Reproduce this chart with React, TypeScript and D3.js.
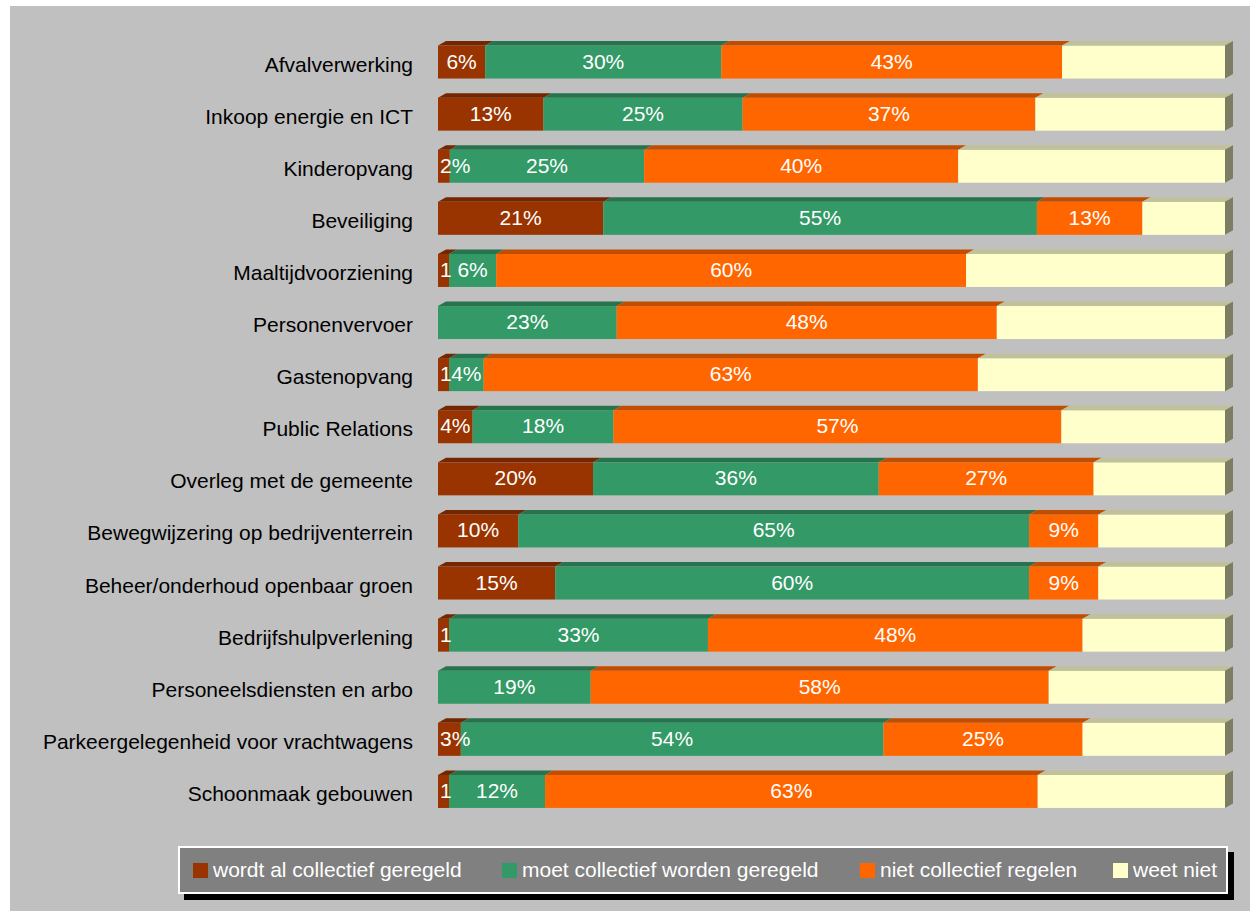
import React from 'react';
import * as d3 from 'd3';

const categories = [
  'Afvalverwerking',
  'Inkoop energie en ICT',
  'Kinderopvang',
  'Beveiliging',
  'Maaltijdvoorziening',
  'Personenvervoer',
  'Gastenopvang',
  'Public Relations',
  'Overleg met de gemeente',
  'Bewegwijzering op bedrijventerrein',
  'Beheer/onderhoud openbaar groen',
  'Bedrijfshulpverlening',
  'Personeelsdiensten en arbo',
  'Parkeergelegenheid voor vrachtwagens',
  'Schoonmaak gebouwen',
];

// percentages per series
const wordtAl = [6, 13.4, 1.5, 21, 1.4, 0, 1.4, 4.4, 19.7, 10.2, 14.9, 1.4, 0, 2.9, 1.4];
const moet = [30, 25.3, 24.7, 55.1, 6, 22.7, 4.4, 17.9, 36.3, 64.9, 60.2, 32.9, 19.4, 53.7, 12.2];
const niet = [43.3, 37.2, 39.9, 13.4, 59.7, 48.3, 62.8, 56.9, 27.3, 8.8, 8.8, 47.6, 58.2, 25.3, 62.6];
const weet = [20.7, 24.1, 33.9, 10.5, 32.9, 29.0, 31.4, 20.8, 16.7, 16.1, 16.1, 18.1, 22.4, 18.1, 23.8];

const seriesNames = [
  'wordt al collectief geregeld',
  'moet collectief worden geregeld',
  'niet collectief regelen',
  'weet niet',
];
const seriesColors = ['#993300', '#339966', '#ff6600', '#ffffcc'];
const seriesLabelled = [true, true, true, false];

const FONT = '"Liberation Sans", Arial, sans-serif';
const W = 1250, H = 911;
const DX = 8, DY = 4.5;

let ctx: CanvasRenderingContext2D | null = null;
function textWidth(s: string, size: number) {
  if (!ctx) ctx = document.createElement('canvas').getContext('2d');
  if (!ctx) return s.length * size * 0.55;
  ctx.font = `${size}px ${FONT}`;
  return ctx.measureText(s).width;
}

export default function App() {
  const seriesValues = [wordtAl, moet, niet, weet];

  const x = d3.scaleLinear().domain([0, 100]).range([438, 1225]);
  const y = d3.scaleBand<string>()
    .domain(categories)
    .range([36, 36 + 15 * 52.1])
    .paddingInner(0.367)
    .paddingOuter(0.1835);

  const bh = y.bandwidth();

  const rows = categories.map((cat, i) => {
    let acc = 0;
    const segs = seriesValues.map((vals, s) => {
      const v = vals[i];
      const seg = { s, v, x0: x(acc), x1: x(acc + v) };
      acc += v;
      return seg;
    }).filter(d => d.v > 0);
    return { cat, segs, y0: y(cat) || 0 };
  });

  const legendX = [193, 502, 860, 1113];

  return (
    <div style={{ position: 'absolute', left: 0, top: 0 }}>
      <svg width={W} height={H} style={{ display: 'block' }}>
        <rect x={0} y={0} width={W} height={H} fill="#ffffff" />
        <rect x={10} y={6} width={W - 10} height={H - 6} fill="#c0c0c0" />

        {rows.map(row => (
          <g key={row.cat}>
            <text x={413} y={row.y0 + bh / 2 + 2} textAnchor="end" dominantBaseline="central"
              fontFamily={FONT} fontSize={21} fill="#000">{row.cat}</text>
            {row.segs.map((sg, k) => {
              const col = d3.color(seriesColors[sg.s])!;
              const top = col.darker(0.8).formatHex();
              const side = col.darker(2).formatHex();
              const yt = row.y0;
              const last = k === row.segs.length - 1;
              return (
                <g key={sg.s}>
                  <rect x={sg.x0} y={yt} width={sg.x1 - sg.x0} height={bh} fill={seriesColors[sg.s]} />
                  <polygon
                    points={`${sg.x0},${yt} ${sg.x0 + DX},${yt - DY} ${sg.x1 + DX},${yt - DY} ${sg.x1},${yt}`}
                    fill={top} />
                  {last && (
                    <polygon
                      points={`${sg.x1},${yt} ${sg.x1 + DX},${yt - DY} ${sg.x1 + DX},${yt + bh - DY} ${sg.x1},${yt + bh}`}
                      fill={side} />
                  )}
                </g>
              );
            })}
            {row.segs.filter(sg => seriesLabelled[sg.s]).map(sg => {
              const r = Math.round(sg.v);
              const label = r === 1 ? '1' : `${r}%`;
              const w = textWidth(label, 21);
              const cx = Math.max((sg.x0 + sg.x1) / 2, x(0) + 2 + w / 2);
              return (
                <text key={'l' + sg.s} x={cx} y={row.y0 + bh / 2 - 1} textAnchor="middle"
                  dominantBaseline="central" fontFamily={FONT} fontSize={21} fill="#ffffff">{label}</text>
              );
            })}
          </g>
        ))}

        {/* legend */}
        <rect x={184} y={852} width={1050} height={48} fill="#000000" />
        <rect x={179} y={847} width={1048} height={46} fill="#808080" stroke="#ffffff" strokeWidth={2} />
        {seriesNames.map((name, i) => (
          <g key={name} transform={`translate(${legendX[i]},0)`}>
            <rect x={0} y={863} width={15} height={15} fill={seriesColors[i]} />
            <text x={20} y={869} dominantBaseline="central" fontFamily={FONT} fontSize={21} fill="#ffffff">{name}</text>
          </g>
        ))}
      </svg>
    </div>
  );
}
